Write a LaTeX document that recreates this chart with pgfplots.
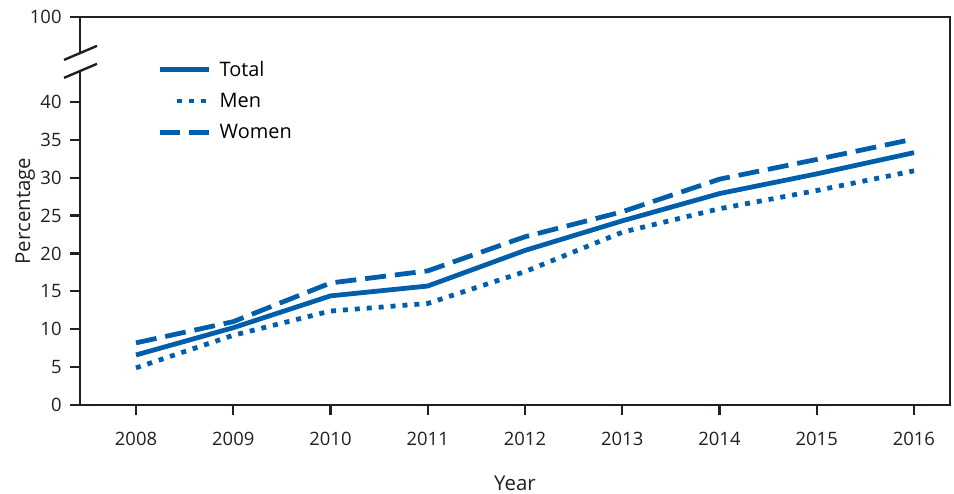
\documentclass[border=0pt]{standalone}
\usepackage{pgfplots}
\pgfplotsset{compat=1.18}
\usepackage{fontspec}
\setmainfont{Open Sans}
\definecolor{cdcblue}{RGB}{0,94,170}
\definecolor{axisgray}{RGB}{35,31,32}
\pgfplotsset{menlegend/.style={legend image code/.code={\draw[##1] (18pt,0pt) -- (50pt,0pt);}}}

\pgfplotstableread{
year total men women
2008 6.6 4.9 8.2
2009 10.2 9.2 11.0
2010 14.4 12.4 16.1
2011 15.7 13.4 17.7
2012 20.4 17.6 22.2
2013 24.3 22.8 25.5
2014 27.9 25.9 29.8
2015 30.5 28.3 32.4
2016 33.3 30.9 35.1
}\datatable

\begin{document}
\begin{tikzpicture}
\begin{axis}[
  name=main,
  scale only axis,
  width=870bp, height=388bp,
  xmin=2007.424, xmax=2016.37,
  ymin=0, ymax=51.2,
  xtick={2008,...,2016},
  ytick={0,5,10,15,20,25,30,35,40,51.2},
  yticklabels={0,5,10,15,20,25,30,35,40,100},
  xticklabel style={/pgf/number format/1000 sep=},
  /pgf/number format/assume math mode=true,
  xtick pos=bottom, ytick pos=left,
  tick align=outside,
  major tick length=10bp,
  tick style={axisgray, line width=2.2pt},
  axis line style={axisgray, line width=2.6pt},
  ticklabel style={font=\fontsize{18.5}{21}\selectfont, text=axisgray},
  xticklabel style={yshift=-14pt},
  yticklabel style={xshift=-5pt},
  xlabel={Year}, ylabel={Percentage},
  label style={font=\fontsize{20.5}{24}\selectfont, text=axisgray},
  xlabel style={yshift=-23pt},
  ylabel style={yshift=-12pt},
  clip=false,
  legend cell align=left,
  legend style={draw=none, fill=none, at={(0.085,0.897)}, anchor=north west,
    font=\fontsize{20}{24}\selectfont, row sep=11.5pt,
    /tikz/every even column/.append style={column sep=6pt},
    nodes={inner xsep=8pt}},
  legend image code/.code={\draw[#1] (0pt,0pt) -- (50pt,0pt);},
]
\addplot[cdcblue, line width=4.8pt] table[x=year, y=total] {\datatable};
\addlegendentry{Total}
\addplot[cdcblue, line width=4.8pt, line cap=butt, dash pattern=on 5pt off 7pt, menlegend] table[x=year, y=men] {\datatable};
\addlegendentry{Men}
\addplot[cdcblue, line width=4.8pt, line cap=butt, dash pattern=on 21pt off 9pt] table[x=year, y=women] {\datatable};
\addlegendentry{Women}
\coordinate (g1) at (axis cs:2007.424,44.1);
\coordinate (g2) at (axis cs:2007.424,46.3);
\coordinate (a1) at (axis cs:2007.26,45.54);
\coordinate (a2) at (axis cs:2007.599,47.39);
\coordinate (b1) at (axis cs:2007.26,43.17);
\coordinate (b2) at (axis cs:2007.599,45.02);
\end{axis}
\draw[white, line width=6pt] (g1) -- (g2);
\draw[axisgray, line width=2.4pt] (a1) -- (a2);
\draw[axisgray, line width=2.4pt] (b1) -- (b2);
\path[use as bounding box] ([shift={(-80bp,-86bp)}]main.south west) rectangle ([shift={(4bp,17bp)}]main.north east);
\end{tikzpicture}
\end{document}
